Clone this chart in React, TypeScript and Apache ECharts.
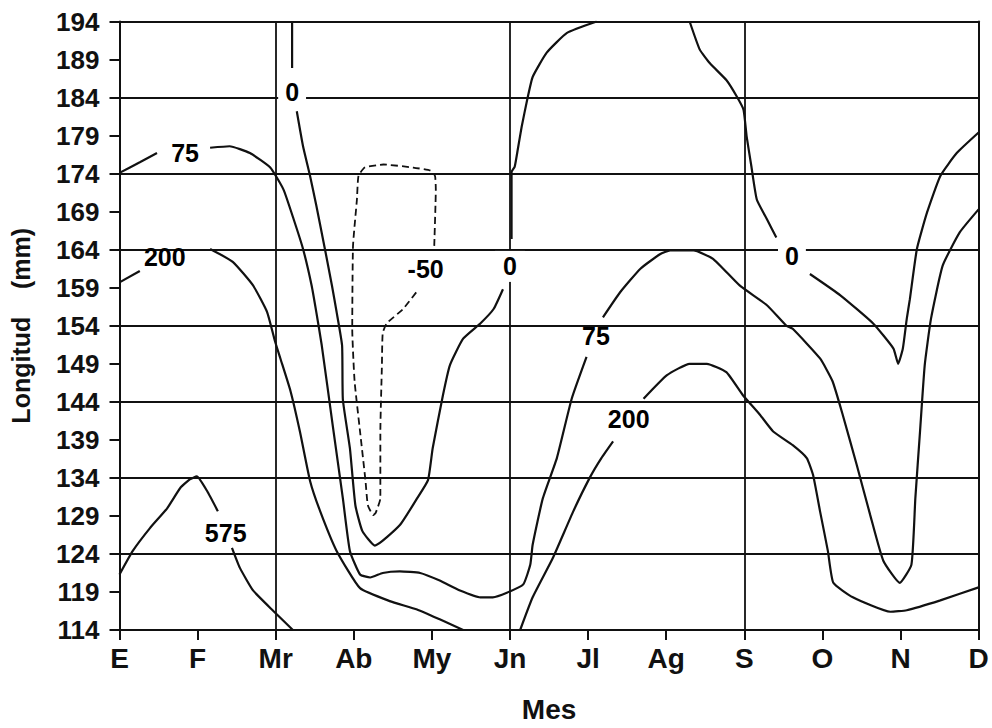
import React, { useEffect, useRef } from "react";
import * as echarts from "echarts";

// ---- axes ----
const months = ["E", "F", "Mr", "Ab", "My", "Jn", "Jl", "Ag", "S", "O", "N", "D"];
const yTickLabels = [114, 119, 124, 129, 134, 139, 144, 149, 154, 159, 164, 169, 174, 179, 184, 189, 194];
const yBase = 114;
const verticalGridMonths = [2, 5, 8]; // Mr, Jn, S

// ---- contour lines: [month index, longitud (mm)] ----
const c575a = [[0, 121.3], [0.17, 124.4], [0.39, 127.4], [0.61, 130.0], [0.78, 132.7], [0.9, 133.8], [0.99, 134.2], [1.12, 132.3], [1.26, 129.6]];
const c575b = [[1.44, 124.8], [1.54, 122.2], [1.71, 119.2], [1.97, 116.5], [2.22, 114]];

const c75a = [[0, 174.1], [0.26, 175.5], [0.48, 176.7]];
const c75b = [[1.16, 177.4], [1.41, 177.6], [1.67, 176.7], [1.93, 174.8], [2.1, 171.9], [2.23, 168.0], [2.35, 164.1], [2.46, 159.3], [2.52, 155.8], [2.59, 151.4], [2.73, 140.9], [2.86, 131.3], [2.95, 124.4], [3.08, 121.3], [3.21, 120.9], [3.37, 121.5], [3.59, 121.7], [3.85, 121.5], [4.1, 120.5], [4.36, 119.2], [4.62, 118.3], [4.78, 118.3], [4.96, 118.9], [5.17, 120.0], [5.26, 122.6], [5.29, 125.2], [5.42, 131.3], [5.6, 136.6], [5.79, 144.4], [5.98, 149.9]];
const c75c = [[6.19, 155.1], [6.41, 158.4], [6.67, 161.5], [6.92, 163.4], [7.05, 163.9], [7.35, 163.9], [7.6, 162.8], [7.94, 159.3], [8.29, 156.7], [8.54, 154.0], [8.62, 153.6], [8.97, 149.7], [9.13, 146.7], [9.26, 142.3], [9.44, 135.7], [9.61, 129.2], [9.78, 123.1], [9.99, 120.2], [10.14, 122.6], [10.19, 131.3], [10.25, 140.1], [10.31, 148.8], [10.39, 154.9], [10.54, 161.9], [10.76, 166.3], [11, 169.3]];

const c200a = [[0, 159.7], [0.26, 161.2]];
const c200b = [[1.16, 164.1], [1.45, 162.4], [1.71, 159.3], [1.89, 155.8], [1.99, 152.0], [2.06, 149.7], [2.19, 145.4], [2.31, 140.1], [2.44, 133.6], [2.57, 129.6], [2.78, 124.4], [3.08, 119.5], [3.46, 117.8], [3.81, 116.7], [4.1, 115.4], [4.4, 114]];
const c200c = [[5.13, 114], [5.29, 118.3], [5.55, 123.5], [5.81, 129.6], [6.02, 134.0], [6.17, 136.6], [6.32, 138.8]];
const c200d = [[6.71, 144.4], [7.01, 147.5], [7.3, 149.0], [7.52, 149.0], [7.77, 147.9], [7.98, 144.9], [8.2, 142.3], [8.37, 140.1], [8.62, 138.3], [8.8, 136.6], [8.88, 134.4], [8.97, 129.6], [9.07, 124.4], [9.14, 120.2], [9.39, 118.3], [9.87, 116.4], [10.08, 116.6], [10.51, 117.9], [11, 119.6]];

const c0a = [[2.21, 194], [2.21, 187.9]];
const c0b = [[2.27, 182.2], [2.35, 177.6], [2.44, 173.7], [2.52, 169.8], [2.63, 164.1], [2.72, 159.3], [2.78, 155.8], [2.85, 151.4], [2.86, 144.3], [2.95, 137.9], [3.02, 130.4], [3.11, 127.0], [3.27, 125.1], [3.59, 127.8], [3.81, 131.3], [3.95, 133.7], [4.01, 137.9], [4.14, 144.8], [4.23, 148.8], [4.4, 152.3], [4.62, 154.3], [4.79, 156.2], [4.91, 158.8]];
const c0c = [[5.02, 165.4], [5.02, 174.2], [5.06, 174.9], [5.1, 177.2], [5.15, 180.2], [5.22, 183.7], [5.29, 186.7], [5.47, 189.9], [5.73, 192.5], [6.11, 194]];
const c0d = [[7.3, 194], [7.43, 190.3], [7.56, 188.5], [7.77, 186.3], [7.9, 184.2], [7.99, 182.4], [8.03, 178.9], [8.09, 175.0], [8.16, 170.6], [8.29, 168.0], [8.41, 165.6]];
const c0e = [[8.84, 160.8], [9.23, 158.0], [9.65, 154.3], [9.91, 151.0], [9.97, 149.0], [10.03, 151.0], [10.08, 154.9], [10.12, 157.5], [10.21, 164.1], [10.34, 168.9], [10.51, 173.7], [10.72, 176.7], [11, 179.4]];

const cMinus50 = [[4.03, 164.5], [4.05, 171.9], [4.04, 173.7], [3.98, 174.4], [3.76, 174.8], [3.38, 175.2], [3.14, 174.8], [3.06, 173.7], [3.04, 170.6], [2.99, 164.5], [2.98, 153.6], [3.01, 146.7], [3.08, 140.1], [3.15, 133.6], [3.18, 130.4], [3.25, 129.1], [3.28, 129.4], [3.34, 131.3], [3.34, 140.1], [3.36, 148.8], [3.37, 153.0], [3.42, 154.3], [3.63, 156.2], [3.83, 158.8]];

// contour labels: text, month index, longitud
const labelTexts = ["75", "200", "575", "0", "-50", "0", "75", "200", "0"];
const labelX = [0.84, 0.58, 1.36, 2.21, 3.92, 5.0, 6.1, 6.52, 8.61];
const labelY = [176.7, 163.0, 126.8, 184.7, 161.5, 161.8, 152.6, 141.8, 163.2];

const solidLines = [c575a, c575b, c75a, c75b, c75c, c200a, c200b, c200c, c200d, c0a, c0b, c0c, c0d, c0e];
const dashedLines = [cMinus50];

const FONT = "'Liberation Sans', Arial, sans-serif";
const INK = "#111";

export default function App() {
  const ref = useRef<HTMLDivElement>(null);
  useEffect(() => {
    if (!ref.current) return;
    const chart = echarts.init(ref.current, undefined, { renderer: "svg" });
    const toPts = (arr: number[][]) => arr.map(([m, v]) => [m, v - yBase]);
    const series: any[] = [];
    // vertical grid lines (Mr, Jn, S) drawn through the x scale
    series.push({
      type: "line",
      data: [],
      silent: true,
      z: 1,
      markLine: {
        silent: true,
        symbol: "none",
        label: { show: false },
        lineStyle: { color: INK, width: 1.8, type: "solid" },
        data: verticalGridMonths.map((m) => ({ xAxis: m })),
      },
    });
    solidLines.forEach((arr) =>
      series.push({
        type: "line",
        data: toPts(arr),
        symbol: "none",
        smooth: 0.15,
        silent: true,
        z: 3,
        lineStyle: { color: INK, width: 2.2 },
      })
    );
    dashedLines.forEach((arr) =>
      series.push({
        type: "line",
        data: toPts(arr),
        symbol: "none",
        smooth: 0.15,
        silent: true,
        z: 3,
        lineStyle: { color: INK, width: 1.8, type: [7, 4] },
      })
    );
    series.push({
      type: "scatter",
      symbolSize: 0,
      silent: true,
      z: 6,
      itemStyle: { color: INK },
      data: labelTexts.map((t, i) => ({
        name: t,
        value: [labelX[i], labelY[i] - yBase],
        label:
          t === "0"
            ? { backgroundColor: "#fff", padding: i === 5 ? [3, 8] : [3, 7] }
            : { padding: 0 },
      })),
      label: {
        show: true,
        position: "inside",
        formatter: "{b}",
        fontSize: 25,
        fontWeight: "bold",
        fontFamily: FONT,
        color: "#000",
        opacity: 1,
        textBorderWidth: 0,
      },
    });

    chart.setOption({
      animation: false,
      backgroundColor: "#fff",
      grid: { left: 119.5, right: 13.4, top: 21.5, bottom: 95.5, containLabel: false },
      xAxis: [
        {
          type: "value",
          min: 0,
          max: 11,
          interval: 1,
          position: "bottom",
          axisLine: { show: true, lineStyle: { color: INK, width: 2 } },
          axisTick: { show: true, length: 10, lineStyle: { color: INK, width: 2 } },
          axisLabel: {
            formatter: (v: number) => months[Math.round(v)] ?? "",
            fontSize: 28,
            fontWeight: "bold",
            fontFamily: FONT,
            color: INK,
            margin: 14,
          },
          splitLine: { show: false },
          name: "Mes",
          nameLocation: "middle",
          nameGap: 65,
          nameTextStyle: { fontSize: 28, fontWeight: "bold", fontFamily: FONT, color: INK },
        },
      ],
      yAxis: [
        {
          type: "value",
          min: 0,
          max: 80,
          interval: 5,
          position: "left",
          axisLine: { show: true, lineStyle: { color: INK, width: 2 } },
          axisTick: { show: true, length: 10, lineStyle: { color: INK, width: 2 } },
          axisLabel: {
            formatter: (v: number) => String(yTickLabels[Math.round(v / 5)] ?? ""),
            fontSize: 26,
            fontWeight: "bold",
            fontFamily: FONT,
            color: INK,
            margin: 20,
          },
          splitLine: { show: false },
          name: "Longitud\u00a0\u00a0\u00a0\u00a0(mm)",
          nameLocation: "middle",
          nameGap: 86,
          nameRotate: 90,
          nameTextStyle: { fontSize: 25, fontWeight: "bold", fontFamily: FONT, color: INK },
        },
        {
          type: "value",
          min: 0,
          max: 80,
          interval: 10,
          position: "right",
          axisLine: { show: true, lineStyle: { color: INK, width: 2 } },
          axisTick: { show: false },
          axisLabel: { show: false },
          splitLine: { show: true, lineStyle: { color: INK, width: 1.8 } },
        },
      ],
      series,
    });
    return () => chart.dispose();
  }, []);
  return (
    <div
      ref={ref}
      style={{ position: "fixed", left: 0, top: 0, width: 992, height: 728, background: "#fff" }}
    />
  );
}
